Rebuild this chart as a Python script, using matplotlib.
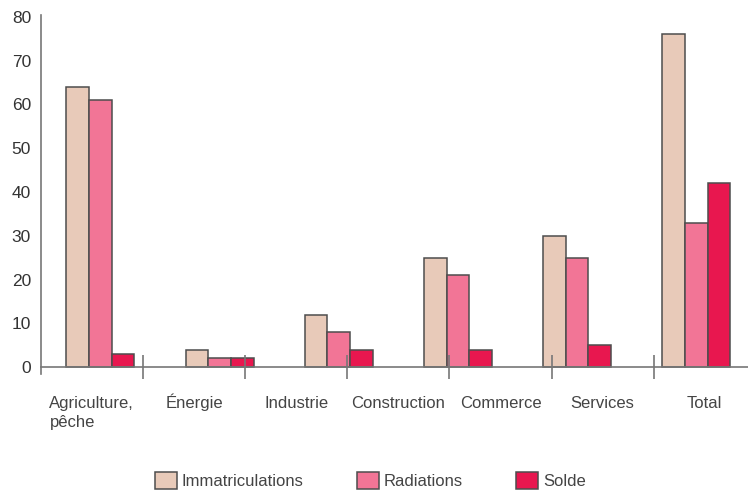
import numpy as np
import matplotlib
matplotlib.use("Agg")
import matplotlib.pyplot as plt

# Data
groups = ["Agriculture", "Énergie", "Industrie", "Construction", "Services", "Total"]
immatriculations = [64, 4, 12, 25, 30, 76]
radiations = [61, 2, 8, 21, 25, 33]
solde = [3, 2, 4, 4, 5, 42]

x_labels = ["Agriculture,\npêche", "Énergie", "Industrie", "Construction",
            "Commerce", "Services", "Total"]
y_ticks = [0, 10, 20, 30, 40, 50, 60, 70, 80]

series_names = ["Immatriculations", "Radiations", "Solde"]
colors = ["#E8CAB9", "#F27596", "#E8174F"]

plt.rcParams["font.family"] = ["Liberation Sans", "DejaVu Sans"]
text_color = "#444444"
axis_color = "#777777"

fig = plt.figure(figsize=(7.48, 4.91), dpi=100)
ax = fig.add_axes([0.0545, 0.2391, 0.956, 0.7308])

# Bars on a 6-slot scale
x = np.arange(len(groups))
w = 0.19
for i, (vals, name, col) in enumerate(zip([immatriculations, radiations, solde], series_names, colors)):
    ax.bar(x + (i - 1) * w, vals, width=w, color=col, edgecolor="#4d4d4d",
           linewidth=1.1, label=name)

ax.set_xlim(-0.5, len(groups) - 0.5)
ax.set_ylim(-1.5, 80.5)
ax.set_yticks(y_ticks)
for s in ["top", "right", "bottom"]:
    ax.spines[s].set_visible(False)
ax.spines["left"].set_color(axis_color)
ax.spines["left"].set_linewidth(1.2)

# Category axis on a 7-slot scale (labels and separators)
ax2 = ax.twiny()
ax2.set_xlim(0, len(x_labels))
ax2.xaxis.set_ticks_position("bottom")
ax2.xaxis.set_label_position("bottom")
ax2.spines["bottom"].set_position(("data", 0))
for s in ["top", "right", "left"]:
    ax2.spines[s].set_visible(False)
ax2.spines["bottom"].set_color(axis_color)
ax2.spines["bottom"].set_linewidth(1.2)
ax2.set_xticks(np.arange(1, len(x_labels)))
ax2.set_xticklabels([])
ax2.tick_params(axis="x", which="major", direction="inout", length=17,
                width=1.2, color=axis_color)
ax2.set_xticks(np.arange(len(x_labels)) + 0.5, minor=True)
ax2.set_xticklabels(x_labels, minor=True, fontsize=12, color=text_color)
ax2.tick_params(axis="x", which="minor", length=0, pad=21)
for lab in ax2.get_xticklabels(minor=True):
    lab.set_verticalalignment("top")
    lab.set_multialignment("left")
    lab.set_linespacing(1.35)
    if lab.get_text().startswith("É"):
        # accent makes the box taller; lift it back onto the common baseline
        # (spine is placed in data coords, so y here is in data units)
        lab.set_y(0.7)

# twiny turns the primary ticks back on, so switch them off afterwards
ax.tick_params(axis="x", which="both", bottom=False, top=False,
               labelbottom=False, labeltop=False)
ax.tick_params(axis="y", length=0, pad=7, labelsize=12.5, labelcolor="#333333")

handles, labels = ax.get_legend_handles_labels()
leg = fig.legend(handles, labels, loc="center", bbox_to_anchor=(0.495, 0.022),
                 ncol=3, frameon=False, fontsize=12, handlelength=1.32,
                 handleheight=1.2, handletextpad=0.3, columnspacing=3.2)
for t in leg.get_texts():
    t.set_color(text_color)

fig.savefig("out.png", dpi=100)
